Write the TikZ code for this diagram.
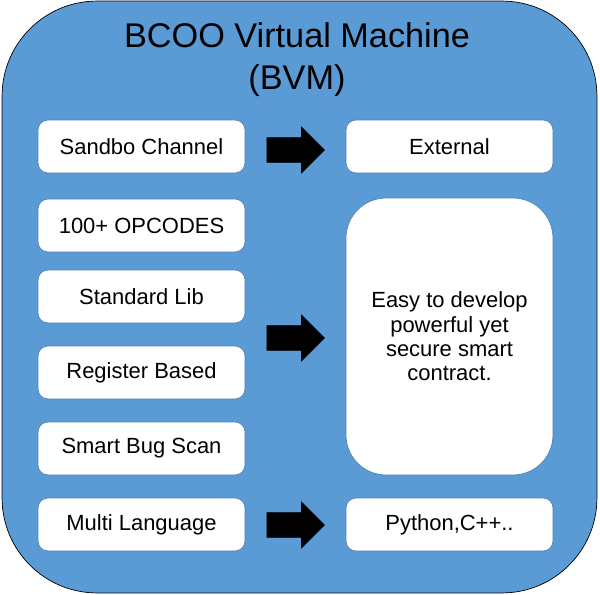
\documentclass[tikz,border=0pt]{standalone}
\usepackage{fontspec}
\setmainfont{Liberation Sans}
\usetikzlibrary{shapes.arrows, positioning}
\definecolor{bvmblue}{HTML}{5B9BD5}

\begin{document}
\begin{tikzpicture}[
    x=0.02cm, y=-0.02cm,
    frame/.style={rectangle, draw=black, fill=bvmblue, rounded corners=1.9cm, minimum width=11.9cm, minimum height=11.84cm, inner sep=0},
    item/.style={rectangle, draw=bvmblue!85!black, fill=white, rounded corners=0.2cm, minimum width=4.14cm, minimum height=1.06cm, font=\fontsize{12.5}{14}\selectfont},
    bigitem/.style={item, rounded corners=0.8cm, minimum height=5.54cm, align=center, font=\fontsize{12.5}{13.9}\selectfont},
    blockarrow/.style={single arrow, draw=black, fill=black, minimum height=1.15cm, single arrow head extend=0.21cm, inner xsep=0, inner ysep=0.24cm}
]
    \useasboundingbox (0,0) rectangle (600,595);
    \node [frame] (vm) at (299.5,297) {};
    \node [align=center, font=\fontsize{19.5}{23.8}\selectfont] (title) at (297,60) {BCOO Virtual Machine\\(BVM)};

    \node [item] (sandbox) at (141.5,146.5) {Sandbo Channel};
    \node [item] (opcodes) at (141.5,225.5) {100+ OPCODES};
    \node [item] (stdlib) at (141.5,296.5) {Standard Lib};
    \node [item] (register) at (141.5,372.5) {Register Based};
    \node [item] (bugscan) at (141.5,448.5) {Smart Bug Scan};
    \node [item] (multilang) at (141.5,524.5) {Multi Language};

    \node [item] (external) at (449.5,146.5) {External};
    \node [bigitem] (easy) at (449.5,336.5) {Easy to develop\\powerful yet\\secure smart\\contract.};
    \node [item] (python) at (449.5,524.5) {Python,C++..};

    \node [blockarrow] (arrtop) at (289.5,150) {};
    \node [blockarrow] (arrmid) at (289.5,338) {};
    \node [blockarrow] (arrbot) at (289.5,525) {};
\end{tikzpicture}
\end{document}
